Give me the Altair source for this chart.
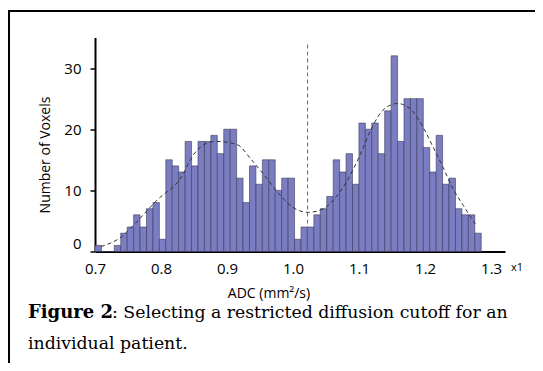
import altair as alt
import pandas as pd

# Histogram counts (60 bins starting at ADC 0.70)
counts = [1, 0, 0, 1, 3, 4, 6, 4, 7, 8,
          2, 15, 14, 13, 18, 14, 18, 18, 19, 16,
          20, 20, 12, 8, 14, 11, 15, 15, 10, 12,
          12, 2, 4, 4, 6, 7, 9, 15, 13, 16,
          11, 21, 20, 21, 16, 23, 32, 18, 25, 25,
          25, 17, 13, 19, 11, 12, 7, 6, 6, 3]
bin_first = 0.70
bin_width = 0.00975

# Dashed bimodal fit curve
curve_x = [0.709, 0.740, 0.760, 0.794, 0.831, 0.849, 0.869, 0.884, 0.915, 0.937,
           0.960, 0.983, 1.000, 1.023, 1.046, 1.061, 1.081, 1.1015, 1.121, 1.136,
           1.158, 1.177, 1.197, 1.212, 1.227, 1.242, 1.258, 1.276]
curve_y = [0.8, 2.4, 4.5, 8.4, 12.2, 15.8, 17.7, 18.0, 17.5, 15.0,
           12.0, 8.9, 7.2, 6.4, 7.0, 8.4, 11.4, 15.8, 20.6, 23.1,
           24.2, 23.4, 20.3, 17.1, 13.8, 10.3, 7.5, 4.5]

cutoff = 1.022
cutoff_top = 34

x_ticks = [0.7, 0.8, 0.9, 1.0, 1.1, 1.2, 1.3]
y_ticks = [0, 10, 20, 30]

bars_df = pd.DataFrame({
    "start": [bin_first + i * bin_width for i in range(len(counts))],
    "end": [bin_first + (i + 1) * bin_width for i in range(len(counts))],
    "count": counts,
})
curve_df = pd.DataFrame({"x": curve_x, "y": curve_y})
cut_df = pd.DataFrame({"x": [cutoff], "y": [0], "y2": [cutoff_top]})
one = pd.DataFrame({"a": [0]})

FONT = "Open Sans"
SERIF = "DejaVu Serif"

xscale = alt.Scale(domain=[0.7, 1.321], nice=False, zero=False)
yscale = alt.Scale(domain=[0, 35], nice=False)

bars = alt.Chart(bars_df).mark_rect(
    fill="#7a7dc2", stroke="#3a3a58", strokeWidth=0.6
).encode(
    x=alt.X("start:Q", scale=xscale,
            axis=alt.Axis(values=x_ticks, format=".1f", title=None, grid=False,
                          domainColor="black", domainWidth=2, ticks=False,
                          labelFlush=False,
                          labelPadding=10, labelFont=FONT, labelFontSize=15,
                          labelColor="black")),
    x2="end:Q",
    y=alt.Y("count:Q", scale=yscale,
            axis=alt.Axis(values=y_ticks, title=None, grid=False,
                          domainColor="black", domainWidth=2,
                          tickColor="black", tickWidth=1.5, tickSize=5,
                          labelFlush=True,
                          labelPadding=9, labelFont=FONT, labelFontSize=15,
                          labelColor="black")),
    y2=alt.datum(0),
)

curve = alt.Chart(curve_df).mark_line(
    color="#333333", strokeWidth=1, strokeDash=[4, 3], interpolate="monotone"
).encode(x=alt.X("x:Q", scale=xscale), y=alt.Y("y:Q", scale=yscale))

cut = alt.Chart(cut_df).mark_rule(
    color="#666666", strokeWidth=1, strokeDash=[4, 3]
).encode(x=alt.X("x:Q", scale=xscale), y=alt.Y("y:Q", scale=yscale), y2="y2:Q")

def txt(text, x, y, size, font=FONT, weight="normal", align="left", angle=0,
        baseline="alphabetic"):
    kw = dict(text=text, font=font, fontSize=size, fontWeight=weight,
              align=align, baseline=baseline, color="black")
    if angle:
        kw["angle"] = angle
    return alt.Chart(one).mark_text(**kw).encode(x=alt.value(x), y=alt.value(y))

# plot origin is at svg (87, 29.5)
x1_lbl = txt("x1", 416, 233, 11)
x_title = txt("ADC (mm²/s)", 174, 260.5, 14, align="center")
y_title = txt("Number of Voxels", -45, 117.5, 14, align="center", angle=270)
cap1a = txt("Figure 2", -67, 280.5, 18, font=SERIF, weight="bold")
cap1b = txt(": Selecting a restricted diffusion cutoff for an", 17, 280.5, 17.3, font=SERIF)
cap2 = txt("individual patient.", -67, 311.5, 17.3, font=SERIF)

top_border = alt.Chart(one).mark_rule(color="black", strokeWidth=2).encode(
    x=alt.value(-87), x2=alt.value(440), y=alt.value(-26.5))
left_border = alt.Chart(one).mark_rule(color="black", strokeWidth=2).encode(
    x=alt.value(-86), y=alt.value(-27.5), y2=alt.value(325.5))

chart = alt.layer(
    bars, curve, cut, x1_lbl, x_title, y_title, cap1a, cap1b, cap2,
    top_border, left_border
).properties(
    width=410, height=214,
    padding={"left": 87, "top": 29.5, "right": 30, "bottom": 111.5},
    autosize=alt.AutoSizeParams(type="none"),
    background="white",
).configure_view(stroke=None)

chart.save("out.html", embed_options={"renderer": "svg", "actions": False})
